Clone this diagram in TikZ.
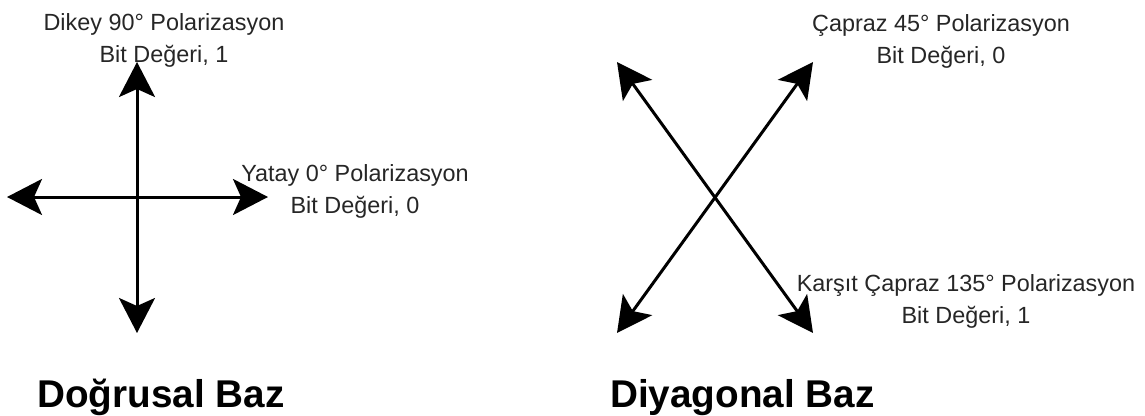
\documentclass[tikz,border=0pt]{standalone}
\usepackage{fontspec}
\setmainfont{Liberation Sans}
\usetikzlibrary{arrows.meta}
\definecolor{labelgray}{HTML}{262626}
\tikzset{
  pol/.style={line width=3pt, {Stealth[length=35pt,width=36pt,inset=8pt]}-{Stealth[length=35pt,width=36pt,inset=8pt]}},
  lbl/.style={inner sep=0pt, anchor=base, align=center, text=labelgray, font=\fontsize{23.4}{32}\selectfont},
  title/.style={inner sep=0pt, anchor=base west, text=black, font=\fontsize{38.7}{46}\selectfont\bfseries}
}
\begin{document}
\begin{tikzpicture}[x=1pt,y=-1pt]
\useasboundingbox (0,0) rectangle (1145,415);
% rectilinear basis
\coordinate (vt) at (137,62);
\coordinate (vb) at (137,333);
\coordinate (hl) at (7,197);
\coordinate (hr) at (268,197);
\draw[pol] (vb) -- (vt);
\draw[pol] (hl) -- (hr);
% diagonal basis
\coordinate (dul) at (617,62);
\coordinate (dur) at (813,62);
\coordinate (dll) at (617,333);
\coordinate (dlr) at (813,333);
\draw[pol] (dll) -- (dur);
\draw[pol] (dul) -- (dlr);
% labels (anchor = baseline of the last line)
\node[lbl] (l90) at (164,62.9) {Dikey 90° Polarizasyon\\Bit Değeri, 1};
\node[lbl] (l0) at (355,213.5) {Yatay 0° Polarizasyon\\Bit Değeri, 0};
\node[lbl] (l45) at (941,63) {Çapraz 45° Polarizasyon\\Bit Değeri, 0};
\node[lbl] (l135) at (966,323.3) {Karşıt Çapraz 135° Polarizasyon\\Bit Değeri, 1};
\node[title] (t1) at (37,407) {Doğrusal Baz};
\node[title] (t2) at (610,407) {Diyagonal Baz};
\end{tikzpicture}
\end{document}
